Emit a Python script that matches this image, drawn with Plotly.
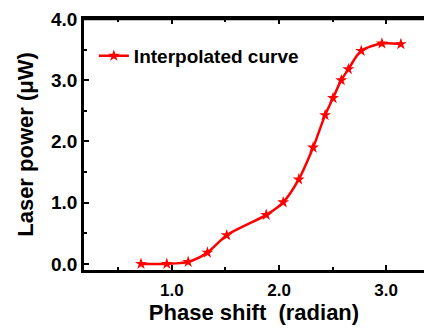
import plotly.graph_objects as go

phase = [0.712, 0.953, 1.152, 1.332, 1.512, 1.881, 2.039, 2.184, 2.318, 2.43,
         2.504, 2.581, 2.647, 2.767, 2.96, 3.137]
power = [0.0, 0.0, 0.033, 0.184, 0.468, 0.80, 1.006, 1.38, 1.90, 2.43,
         2.71, 3.0, 3.18, 3.48, 3.60, 3.59]

series_name = "Interpolated curve"
x_title = "Phase shift  (radian)"
y_title = "Laser power (\u03bcW)"

RED = "#ff0000"
FONT = "Liberation Sans, Arial, sans-serif"
X_RANGE = [0.18, 3.353]

fig = go.Figure()
fig.add_trace(go.Scatter(
    x=phase, y=power, mode="lines+markers", name=series_name,
    line=dict(color=RED, width=2.5, shape="spline", smoothing=0.8),
    marker=dict(symbol="star", size=9, color=RED),
))

axis_common = dict(
    showgrid=False, zeroline=False, showline=True, linecolor="black", linewidth=2.5,
    ticks="inside", ticklen=5, tickwidth=2, tickcolor="black",
    tickformat=".1f", automargin=False,
)
minor = dict(dtick=0.5, ticks="inside", ticklen=3, tickwidth=2, tickcolor="black")

fig.update_layout(
    width=424, height=331,
    margin=dict(l=84, r=0, t=19, b=61),
    paper_bgcolor="white", plot_bgcolor="white",
    showlegend=True,
    legend=dict(x=0.029, y=0.853, xanchor="left", yanchor="middle",
                bgcolor="rgba(0,0,0,0)",
                font=dict(family=FONT, size=19, color="black", weight="bold")),
    xaxis=dict(**axis_common, range=X_RANGE, dtick=1, tick0=0, mirror="allticks",
               tickfont=dict(family=FONT, size=17, color="black", weight="bold"),
               ticklabelstandoff=3, minor=minor,
               title=dict(text=x_title, standoff=6,
                          font=dict(family=FONT, size=22, color="black", weight="bold"))),
    yaxis=dict(**axis_common, range=[-0.1, 4.0], dtick=1, tick0=0,
               tickfont=dict(family=FONT, size=19, color="black", weight="bold"),
               minor=minor,
               title=dict(text=y_title, standoff=12,
                          font=dict(family=FONT, size=22, color="black", weight="bold"))),
    shapes=[dict(type="line", xref="paper", yref="paper", x0=0, x1=1, y0=1, y1=1,
                 line=dict(color="black", width=2.5), layer="above")],
)

fig.write_html("out.html", config={"displayModeBar": False},
               post_script="document.body.style.margin='0';document.body.style.overflow='hidden';")
